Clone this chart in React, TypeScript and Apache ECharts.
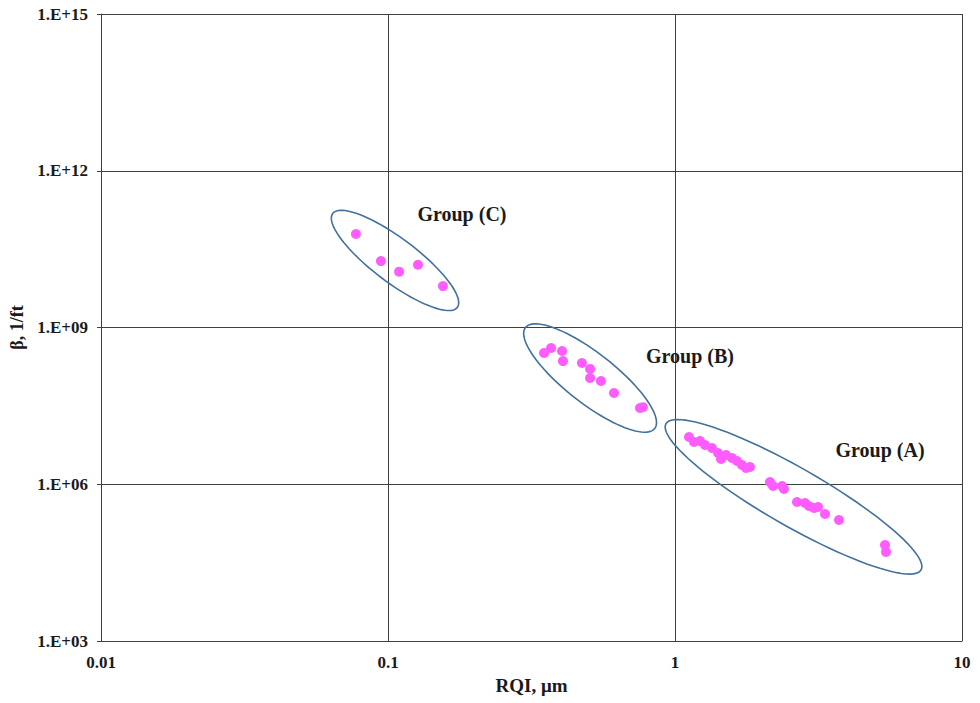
import React, { useEffect, useRef } from "react";
import * as echarts from "echarts";

// Group (A)
const groupA_RQI = [1.119, 1.165, 1.222, 1.272, 1.345, 1.412, 1.447, 1.506, 1.58, 1.644, 1.711, 1.768, 1.825, 2.143, 2.196, 2.36, 2.398, 2.661, 2.838, 2.931, 3.05, 3.15, 3.332, 3.727, 5.392, 5.435];
const groupA_Beta = [8.02e6, 6.44e6, 6.73e6, 5.64e6, 4.94e6, 3.96e6, 3.04e6, 3.63e6, 3.18e6, 2.79e6, 2.34e6, 2.05e6, 2.14e6, 1.1e6, 9.26e5, 9.26e5, 8.11e5, 4.57e5, 4.38e5, 3.83e5, 3.51e5, 3.67e5, 2.7e5, 2.07e5, 6.88e4, 5.05e4];

// Group (B)
const groupB_RQI = [0.3497, 0.37, 0.404, 0.407, 0.474, 0.506, 0.506, 0.552, 0.613, 0.755, 0.773];
const groupB_Beta = [3.25e8, 4.05e8, 3.55e8, 2.28e8, 2.09e8, 1.61e8, 1.08e8, 9.47e7, 5.58e7, 2.88e7, 2.99e7];

// Group (C)
const groupC_RQI = [0.0773, 0.0945, 0.1093, 0.1272, 0.1554];
const groupC_Beta = [6.15e10, 1.87e10, 1.17e10, 1.59e10, 6.2e9];

// Group outlines and labels (data coordinates)
const groupNames = ["Group (A)", "Group (B)", "Group (C)"];
const ellipseCenterRQI = [2.588, 0.506, 0.1058];
const ellipseCenterBeta = [5.75e5, 1.08e8, 1.92e10];
const labelRQI = [5.18, 1.128, 0.181];
const labelBeta = [4.53e6, 2.85e8, 1.49e11];

// Axis ticks
const xTicks = [0.01, 0.1, 1, 10];
const yTicks = [1e3, 1e6, 1e9, 1e12, 1e15];

const SERIF = '"Liberation Serif", "Times New Roman", serif';
const POINT_COLOR = "#ff5cff";
const OUTLINE_COLOR = "#41719c";
// ellipse shape in pixels: [semi-major, semi-minor, angle deg]
const ellipseShapes = [
  [147, 29, 29.8],
  [82, 25, 38],
  [78, 22, 37],
];

const zip = (xs: number[], ys: number[]) => xs.map((x, i) => [x, ys[i]]);

export default function App() {
  const ref = useRef<HTMLDivElement>(null);
  useEffect(() => {
    if (!ref.current) return;
    const chart = echarts.init(ref.current, undefined, { renderer: "svg" });
    const fmtX = (v: number) => {
      const e = Math.round(Math.log10(v));
      return e < 0 ? v.toFixed(-e) : String(Math.round(v));
    };
    const fmtY = (v: number) => {
      const e = Math.round(Math.log10(v));
      return "1.E+" + String(e).padStart(2, "0");
    };
    const pointSeries = (xs: number[], ys: number[]) => ({
      type: "scatter",
      data: zip(xs, ys),
      symbol: "circle",
      symbolSize: 10,
      itemStyle: { color: POINT_COLOR, opacity: 1 },
      z: 3,
    });
    chart.setOption({
      animation: false,
      backgroundColor: "#ffffff",
      grid: { left: 101, right: 18, top: 14, bottom: 62, containLabel: false },
      xAxis: {
        type: "log",
        logBase: 10,
        min: xTicks[0],
        max: xTicks[xTicks.length - 1],
        name: "RQI, μm",
        nameLocation: "middle",
        nameGap: 34,
        nameTextStyle: { fontFamily: SERIF, fontWeight: "bold", fontSize: 19, color: "#1a1a1a" },
        axisLine: { show: true, lineStyle: { color: "#404040", width: 1 } },
        axisTick: { show: false },
        axisLabel: { formatter: fmtX, fontFamily: SERIF, fontWeight: "bold", fontSize: 17, color: "#1a1a1a", margin: 13 },
        splitLine: { show: true, lineStyle: { color: "#404040", width: 1 } },
        minorTick: { show: false },
      },
      yAxis: {
        type: "log",
        logBase: 1000,
        min: yTicks[0],
        max: yTicks[yTicks.length - 1],
        name: "β, 1/ft",
        nameLocation: "middle",
        nameGap: 63,
        nameTextStyle: { fontFamily: SERIF, fontWeight: "bold", fontSize: 18, color: "#1a1a1a" },
        axisLine: { show: true, lineStyle: { color: "#404040", width: 1 } },
        axisTick: { show: true, length: 4, lineStyle: { color: "#404040" } },
        axisLabel: { formatter: fmtY, fontFamily: SERIF, fontWeight: "bold", fontSize: 17, color: "#1a1a1a", margin: 13 },
        splitLine: { show: true, lineStyle: { color: "#404040", width: 1 } },
      },
      series: [
        pointSeries(groupA_RQI, groupA_Beta),
        pointSeries(groupB_RQI, groupB_Beta),
        pointSeries(groupC_RQI, groupC_Beta),
        {
          type: "custom",
          z: 4,
          silent: true,
          data: groupNames.map((n, i) => [ellipseCenterRQI[i], ellipseCenterBeta[i], labelRQI[i], labelBeta[i]]),
          renderItem: (params: any, api: any) => {
            const i = params.dataIndex;
            const c = api.coord([api.value(0), api.value(1)]);
            const lp = api.coord([api.value(2), api.value(3)]);
            const [a, b, deg] = ellipseShapes[i];
            const t = (deg * Math.PI) / 180;
            const pts: number[][] = [];
            for (let k = 0; k < 96; k++) {
              const th = (k / 96) * Math.PI * 2;
              const ex = a * Math.cos(th);
              const ey = b * Math.sin(th);
              pts.push([c[0] + ex * Math.cos(t) - ey * Math.sin(t), c[1] + ex * Math.sin(t) + ey * Math.cos(t)]);
            }
            return {
              type: "group",
              children: [
                {
                  type: "polygon",
                  shape: { points: pts },
                  style: { fill: "none", stroke: OUTLINE_COLOR, lineWidth: 1.6 },
                },
                {
                  type: "text",
                  x: lp[0],
                  y: lp[1],
                  style: {
                    text: groupNames[i],
                    fontFamily: SERIF,
                    fontWeight: "bold",
                    fontSize: 20,
                    fill: "#1a1a1a",
                    align: "center",
                    verticalAlign: "middle",
                  },
                },
              ],
            };
          },
        },
      ],
    });
    return () => chart.dispose();
  }, []);
  return (
    <div
      ref={ref}
      style={{ position: "fixed", left: 0, top: 0, width: 980, height: 703, background: "#fff" }}
    />
  );
}
